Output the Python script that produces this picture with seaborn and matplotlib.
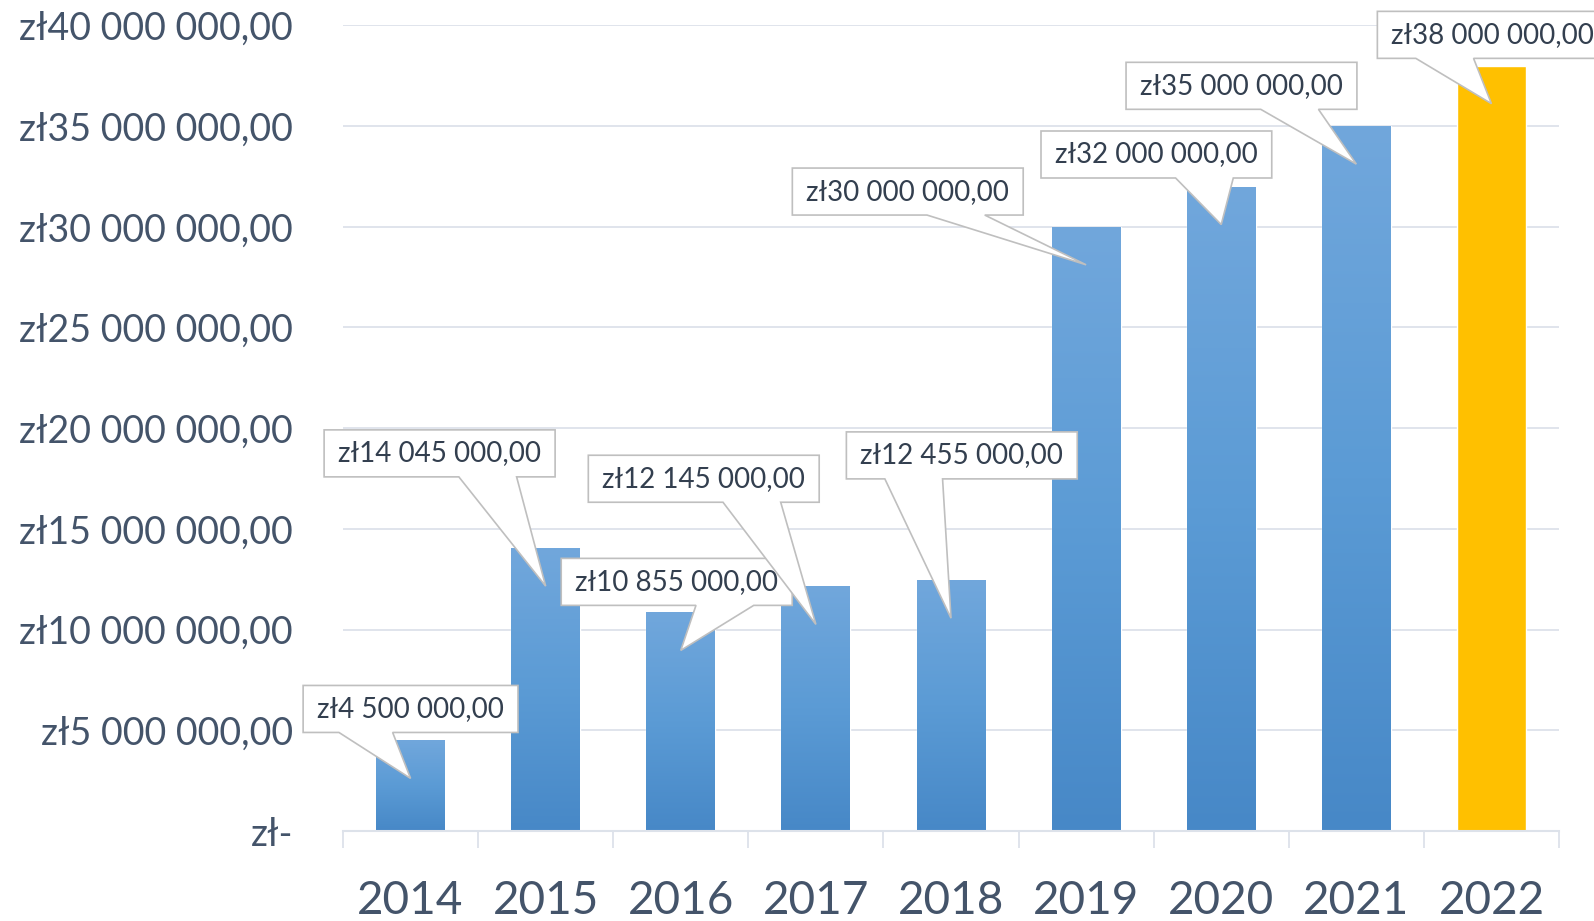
import numpy as np
import pandas as pd
import matplotlib
matplotlib.use("Agg")
import matplotlib.pyplot as plt
import seaborn as sns
from matplotlib.colors import LinearSegmentedColormap
from matplotlib.patches import Polygon
from matplotlib.transforms import IdentityTransform

# Data
YEARS = ["2014", "2015", "2016", "2017", "2018", "2019", "2020", "2021", "2022"]
VALUES = [4_500_000, 14_045_000, 10_855_000, 12_145_000, 12_455_000,
          30_000_000, 32_000_000, 35_000_000, 38_000_000]
Y_TICKS = [0, 5_000_000, 10_000_000, 15_000_000, 20_000_000,
           25_000_000, 30_000_000, 35_000_000, 40_000_000]

# Callout layout: box centre offset (in categories) and box centre height (zł)
CALLOUT_DX = [0.0, -0.785, -0.03, -0.83, 0.08, -1.32, -0.48, -0.85, 0.01]
CALLOUT_Y = [6.06e6, 18.75e6, 12.37e6, 17.49e6, 18.65e6, 31.75e6, 33.59e6, 37.0e6, 39.53e6]

BLUE_BOTTOM, BLUE_MID, BLUE_TOP = "#4788C7", "#5B9BD5", "#71A7DC"
GOLD = "#FFC000"
TEXT = "#44546A"
CALLOUT_TEXT = "#333F4F"
GRID = "#DDE2EA"


def fmt_pln(v):
    if v == 0:
        return "zł-"
    return "zł" + f"{v:,.2f}".replace(",", " ").replace(".", ",")


sns.set_style("white")
plt.rcParams["font.family"] = ["Lato", "DejaVu Sans"]

W, H, DPI = 1594, 921, 100
fig = plt.figure(figsize=(W / DPI, H / DPI), dpi=DPI)
ax = fig.add_axes([343 / W, 1 - 831 / H, (1559 - 343) / W, (831 - 25.4) / H])

df = pd.DataFrame({"year": YEARS, "value": VALUES})
palette = {y: (GOLD if i == len(YEARS) - 1 else BLUE_MID) for i, y in enumerate(YEARS)}
sns.barplot(data=df, x="year", y="value", hue="year", palette=palette,
            legend=False, width=0.51, saturation=1, ax=ax, zorder=2)

# vertical gradient on the blue bars
cmap = LinearSegmentedColormap.from_list("bar", [BLUE_BOTTOM, BLUE_MID, BLUE_TOP])
grad = np.linspace(0, 1, 256).reshape(-1, 1)
for patch in ax.patches[:len(YEARS) - 1]:
    x0 = patch.get_x()
    x1 = x0 + patch.get_width()
    h = patch.get_height()
    im = ax.imshow(grad, cmap=cmap, origin="lower", aspect="auto",
                   extent=[x0, x1, 0, h], zorder=2.1)
    im.set_clip_path(patch)
ax.set_xlim(-0.5, len(YEARS) - 0.5)
ax.set_ylim(0, 40_000_000)

# axes styling
ax.set_yticks(Y_TICKS)
ax.set_yticklabels([fmt_pln(v) for v in Y_TICKS])
ax.yaxis.grid(True, color=GRID, linewidth=1.3)
ax.set_axisbelow(True)
for s in ["top", "right", "left"]:
    ax.spines[s].set_visible(False)
ax.spines["bottom"].set_color(GRID)
ax.spines["bottom"].set_linewidth(1.5)
ax.set_xlabel("")
ax.set_ylabel("")
ax.tick_params(axis="y", length=0, pad=36, labelsize=27, labelcolor=TEXT)
ax.tick_params(axis="x", which="major", length=0, pad=35, labelsize=33, labelcolor=TEXT)
ax.set_xticks(np.arange(-0.5, len(YEARS), 1.0), minor=True)
ax.tick_params(axis="x", which="minor", bottom=True, length=12.5, width=1.3,
               color=GRID, labelbottom=False)

# callouts
fig.canvas.draw()
renderer = fig.canvas.get_renderer()
to_disp = ax.transData.transform
box_h = 47
tip_drop = 38
for i, (v, dx, cy) in enumerate(zip(VALUES, CALLOUT_DX, CALLOUT_Y)):
    cx_d, cy_d = to_disp((i + dx, cy))
    tx_d, ty_d = to_disp((i, v))
    ty_d -= tip_drop
    txt = ax.text(i + dx, cy, fmt_pln(v), ha="center", va="center",
                  fontsize=20, color=CALLOUT_TEXT, zorder=6 + 2 * i, clip_on=False)
    ext = txt.get_window_extent(renderer)
    bw = ext.width + 28
    L, R = cx_d - bw / 2, cx_d + bw / 2
    B, T = cy_d - box_h / 2, cy_d + box_h / 2
    if tx_d > cx_d:
        b1, b2 = L + bw * 7 / 12, L + bw * 10 / 12
    else:
        b1, b2 = L + bw * 2 / 12, L + bw * 5 / 12
    verts = [(L, T), (R, T), (R, B), (b2, B), (tx_d, ty_d), (b1, B), (L, B)]
    poly = Polygon(verts, closed=True, transform=IdentityTransform(),
                   facecolor="white", edgecolor="#BFBFBF", linewidth=1.2,
                   zorder=5 + 2 * i, clip_on=False)
    ax.add_artist(poly)

fig.savefig("out.png", dpi=DPI)
